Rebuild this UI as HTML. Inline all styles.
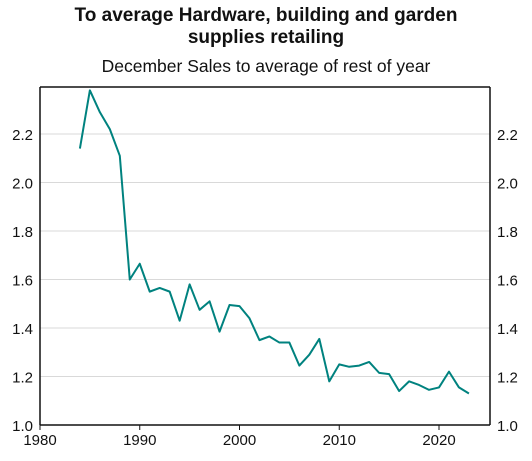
<!DOCTYPE html>
<html><head><meta charset="utf-8"><style>
body{margin:0;background:#fff;font-family:"Liberation Sans",sans-serif;}
svg text{font-family:"Liberation Sans",sans-serif;fill:#111;}
</style></head><body>
<svg width="532" height="456" viewBox="0 0 532 456" xmlns="http://www.w3.org/2000/svg">
<text x="266" y="21" text-anchor="middle" font-size="19" font-weight="bold">To average Hardware, building and garden</text>
<text x="266" y="43" text-anchor="middle" font-size="19" font-weight="bold">supplies retailing</text>
<text x="266" y="72" text-anchor="middle" font-size="17.5">December Sales to average of rest of year</text>
<g id="grid"></g>
<g id="axes"></g>
<polyline id="line" fill="none" stroke="#00827f" stroke-width="2" stroke-linejoin="round"/>
</svg>
<script>
const years=[1984,1985,1986,1987,1988,1989,1990,1991,1992,1993,1994,1995,1996,1997,1998,1999,2000,2001,2002,2003,2004,2005,2006,2007,2008,2009,2010,2011,2012,2013,2014,2015,2016,2017,2018,2019,2020,2021,2022,2023];
const ratios=[2.14,2.38,2.29,2.22,2.11,1.60,1.665,1.55,1.565,1.55,1.43,1.58,1.475,1.51,1.385,1.495,1.49,1.44,1.35,1.365,1.34,1.34,1.245,1.29,1.355,1.18,1.25,1.24,1.245,1.26,1.215,1.21,1.14,1.18,1.165,1.145,1.155,1.22,1.155,1.13];
const yTicks=[1.0,1.2,1.4,1.6,1.8,2.0,2.2];
const xTicks=[1980,1990,2000,2010,2020];
const L=40,R=490,T=87,B=425;
const xs=v=>L+(v-1980)*9.975;
const ys=v=>B-(v-1)*242.5;
const ns="http://www.w3.org/2000/svg";
const grid=document.getElementById('grid'),axes=document.getElementById('axes');
function mk(tag,attrs,parent,txt){const e=document.createElementNS(ns,tag);for(const k in attrs)e.setAttribute(k,attrs[k]);if(txt!==undefined)e.textContent=txt;parent.appendChild(e);return e;}
yTicks.forEach(v=>{
 if(v>1){const g=mk('line',{x1:L,x2:R,y1:ys(v),y2:ys(v),stroke:'#d9d9d9','stroke-width':1},grid);
 
 }
 const a=mk('text',{x:33,y:ys(v)+6,'text-anchor':'end','font-size':'15'},axes,v.toFixed(1));
 
 
 const b=mk('text',{x:497,y:ys(v)+6,'text-anchor':'start','font-size':'15'},axes,v.toFixed(1));
 
 
});
xTicks.forEach(v=>{
 const t=mk('line',{x1:xs(v),x2:xs(v),y1:B,y2:B+5,stroke:'#111'},axes);
 
 
 const l=mk('text',{x:xs(v),y:B+20,'text-anchor':'middle','font-size':'15'},axes,String(v));
 
 
});
[[L,T,L,B,'y-axis-left'],[R,T,R,B,'y-axis-right'],[L,B,R,B,'x-axis'],[L,T,R,T,'top-border']].forEach(a=>{
 const e=mk('line',{x1:a[0],y1:a[1],x2:a[2],y2:a[3],stroke:'#111','stroke-width':1.5},axes);
 
 
});
document.getElementById('line').setAttribute('points',years.map((y,i)=>xs(y)+','+ys(ratios[i])).join(' '));
</script>
</body></html>
